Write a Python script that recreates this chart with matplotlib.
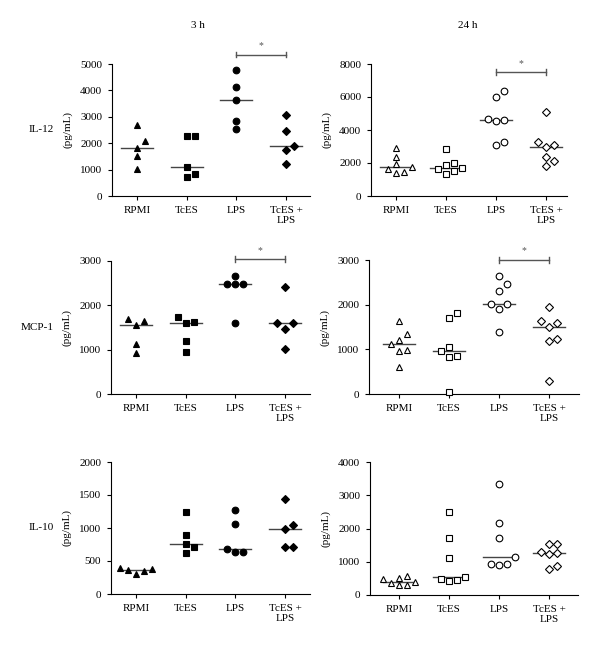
import matplotlib
matplotlib.use('Agg')
import matplotlib.pyplot as plt
import numpy as np

plt.rcParams['font.family'] = ['Liberation Serif', 'DejaVu Serif']

groups = ['RPMI', 'TcES', 'LPS', 'TcES +\nLPS']
rows = ['IL-12', 'MCP-1', 'IL-10']
times = ['3 h', '24 h']

# values (pg/mL), one list per group
il12_3h = [[2671, 2089, 1823, 1506, 1013],
           [2266, 2291, 1101, 835, 722],
           [4772, 4114, 3620, 2823, 2544],
           [3051, 2456, 1886, 1747, 1228]]
il12_24h = [[2929, 2384, 1940, 1616, 1737, 1414, 1455],
            [2848, 2020, 1859, 1657, 1717, 1535, 1333],
            [6020, 6364, 4606, 4525, 4687, 3111, 3273],
            [5111, 3273, 2949, 3111, 2364, 2141, 1798]]
mcp1_3h = [[1703, 1650, 1560, 1118, 915],
           [1733, 1605, 1635, 1200, 953],
           [2655, 2490, 2490, 2490, 1605],
           [2423, 1605, 1605, 1463, 1013]]
mcp1_24h = [[1631, 1348, 1199, 1109, 975, 960, 596],
            [1817, 1712, 1042, 953, 856, 819, 52],
            [2636, 2457, 2301, 2010, 1906, 2025, 1385],
            [1958, 1638, 1586, 1497, 1229, 1176, 283]]
il10_3h = [[370, 398, 383, 353, 307],
           [1244, 887, 761, 710, 625],
           [1280, 1063, 675, 635, 635],
           [1436, 1043, 992, 715, 715]]
il10_24h = [[584, 504, 474, 403, 373, 292, 292],
            [2489, 1703, 1118, 484, 544, 423, 463],
            [3325, 2156, 1713, 1128, 937, 917, 937],
            [1521, 1542, 1259, 1219, 1300, 786, 877]]

panels = [il12_3h, il12_24h, mcp1_3h, mcp1_24h, il10_3h, il10_24h]
ymax = [5000, 8000, 3000, 3000, 2000, 4000]
ystep = [1000, 2000, 1000, 1000, 500, 1000]

# layout in pixels: left, top, right, bottom
rects = [(112, 64, 310, 196), (371, 64, 567, 196),
         (111, 261, 310, 394), (369, 260, 579, 394),
         (111, 462, 310, 594), (370, 462, 578, 595)]
xlims = [(-0.5, 3.48), (-0.5, 3.42), (-0.5, 3.5), (-0.6, 3.6),
         (-0.5, 3.5), (-0.58, 3.58)]
# significance bar / star heights (axes fraction), None = no bar
sig = [(1.07, 1.14), (0.94, 1.0), (1.015, 1.08), (1.0, 1.07), None, None]

markers = ['^', 's', 'o', 'D']
msizes = [5.0, 4.5, 4.8, 4.1]

W, H = 600, 648
fig = plt.figure(figsize=(W / 100, H / 100), dpi=100)


def swarm(vals, px_per_unit, thr=7.2):
    # simple dot-plot spreading: ascending order, slots 0, +1, -1, +2, -2
    order = np.argsort(vals, kind='stable')
    slots = np.zeros(len(vals))
    placed = []
    for i in order:
        for s in [0, 1, -1, 2, -2]:
            ok = True
            for j in placed:
                if slots[j] == s and abs(vals[i] - vals[j]) * px_per_unit < thr:
                    ok = False
                    break
            if ok:
                slots[i] = s
                break
        placed.append(i)
    return slots


for k, data in enumerate(panels):
    l, t, r, b = rects[k]
    ax = fig.add_axes([l / W, 1 - b / H, (r - l) / W, (b - t) / H])
    filled = (k % 2 == 0)
    ppu = (b - t) / ymax[k]
    xppu = (r - l) / (xlims[k][1] - xlims[k][0])
    step = 8.0 / xppu
    for g, vals in enumerate(data):
        vals = np.array(vals, dtype=float)
        off = swarm(vals, ppu) * step
        ax.plot(g + off, vals, linestyle='none', marker=markers[g],
                markersize=msizes[g], markeredgewidth=0.8,
                markerfacecolor='black' if filled else 'white',
                markeredgecolor='black', clip_on=False, zorder=3)
        med = np.median(vals)
        ax.plot([g - 0.32, g + 0.32], [med, med], color='#444444',
                lw=1.0, zorder=2)

    ax.set_xlim(*xlims[k])
    ax.set_ylim(0, ymax[k])
    ax.set_yticks(np.arange(0, ymax[k] + 1, ystep[k]))
    ax.set_xticks(range(4))
    ax.set_xticklabels(groups)
    for s in ['top', 'right']:
        ax.spines[s].set_visible(False)
    for s in ['left', 'bottom']:
        ax.spines[s].set_linewidth(0.8)
    ax.tick_params(direction='out', length=3, width=0.8, labelsize=8,
                   pad=4)

    ax.text(-44 / (r - l), 0.5, '(pg/mL)', transform=ax.transAxes,
            rotation=90, ha='center', va='center', fontsize=8)

    if sig[k] is not None:
        yb, ys = sig[k]
        tr = ax.get_xaxis_transform()
        ax.plot([2, 3], [yb, yb], color='#555555', lw=1.0, transform=tr,
                clip_on=False)
        for xx in [2, 3]:
            ax.plot([xx, xx], [yb - 0.02, yb + 0.02], color='#555555',
                    lw=1.0, transform=tr, clip_on=False)
        ax.text(2.5, ys, '*', transform=tr, ha='center', va='center',
                fontsize=7, color='#555555')

    if k % 2 == 0:
        fig.text(54 / W, 1 - ((t + b) / 2) / H, rows[k // 2], ha='right',
                 va='center', fontsize=8)

fig.text(198 / W, 1 - 25 / H, times[0], ha='center', va='center', fontsize=8)
fig.text(468 / W, 1 - 25 / H, times[1], ha='center', va='center', fontsize=8)

fig.savefig('out.png', dpi=100)
